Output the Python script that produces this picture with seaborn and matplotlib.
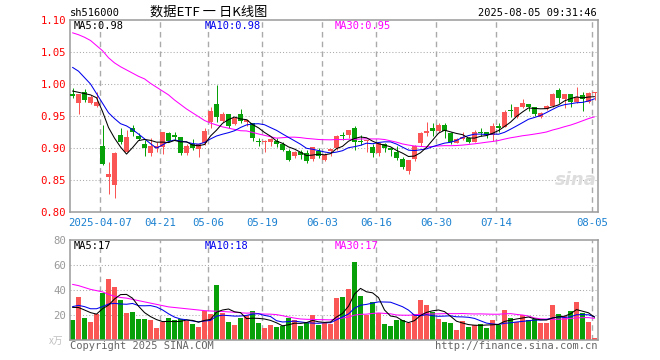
import numpy as np
import pandas as pd
import matplotlib
matplotlib.use("Agg")
import matplotlib.pyplot as plt
import seaborn as sns

# ---------------- data ----------------
opens = [0.985, 0.971, 0.987, 0.970, 0.965, 0.903, 0.854, 0.842, 0.920, 0.894,
         0.932, 0.919, 0.9057, 0.8927, 0.900, 0.902, 0.923, 0.921, 0.917, 0.892,
         0.9057, 0.8984, 0.9073, 0.941, 0.969, 0.9427, 0.953, 0.937, 0.953, 0.940,
         0.9385, 0.9115, 0.909, 0.9099, 0.911, 0.906, 0.8953, 0.8875, 0.894, 0.8917,
         0.883, 0.8953, 0.881, 0.8953, 0.8995, 0.920, 0.920, 0.932, 0.9115, 0.911,
         0.902, 0.8917, 0.9057, 0.8995, 0.894, 0.883, 0.8646, 0.8823, 0.9073, 0.924,
         0.932, 0.9266, 0.936, 0.923, 0.9083, 0.914, 0.915, 0.910, 0.9255, 0.9255,
         0.920, 0.935, 0.9333, 0.9594, 0.949, 0.9635, 0.968, 0.9635, 0.949, 0.9604,
         0.966, 0.9906, 0.9766, 0.9844, 0.9724, 0.983, 0.9724, 0.9854]
highs = [0.994, 0.985, 0.992, 0.983, 0.987, 0.936, 0.878, 0.893, 0.932, 0.928,
         0.936, 0.923, 0.9125, 0.916, 0.910, 0.925, 0.9255, 0.9255, 0.917, 0.907,
         0.914, 0.907, 0.9307, 0.9646, 0.998, 0.957, 0.953, 0.949, 0.961, 0.946,
         0.9385, 0.915, 0.912, 0.916, 0.915, 0.910, 0.898, 0.8953, 0.897, 0.897,
         0.902, 0.8995, 0.8917, 0.8984, 0.920, 0.9245, 0.928, 0.9344, 0.920, 0.913,
         0.9057, 0.9073, 0.9073, 0.900, 0.9036, 0.8865, 0.881, 0.9047, 0.9245, 0.940,
         0.9396, 0.9385, 0.9385, 0.9245, 0.916, 0.9255, 0.9177, 0.928, 0.932, 0.9255,
         0.9385, 0.9385, 0.9594, 0.968, 0.9646, 0.977, 0.968, 0.9635, 0.957, 0.967,
         0.9854, 0.9943, 0.9844, 0.9844, 0.9958, 0.987, 0.987, 0.987]
lows = [0.978, 0.953, 0.972, 0.968, 0.9635, 0.873, 0.828, 0.822, 0.906, 0.893,
        0.919, 0.9125, 0.888, 0.8875, 0.894, 0.891, 0.910, 0.9125, 0.889, 0.889,
        0.897, 0.8865, 0.9047, 0.9307, 0.941, 0.941, 0.931, 0.936, 0.9385, 0.935,
        0.9115, 0.9036, 0.894, 0.9026, 0.902, 0.8953, 0.8797, 0.884, 0.883, 0.876,
        0.880, 0.884, 0.8797, 0.888, 0.897, 0.9125, 0.915, 0.897, 0.9047, 0.894,
        0.8865, 0.8875, 0.893, 0.888, 0.881, 0.8672, 0.8594, 0.8797, 0.903, 0.919,
        0.919, 0.9255, 0.916, 0.906, 0.9073, 0.9125, 0.9083, 0.909, 0.919, 0.915,
        0.911, 0.9255, 0.933, 0.949, 0.947, 0.962, 0.958, 0.950, 0.9474, 0.9594,
        0.9646, 0.970, 0.962, 0.9646, 0.970, 0.958, 0.971, 0.975]
closes = [0.982, 0.9844, 0.975, 0.979, 0.9724, 0.8745, 0.859, 0.892, 0.910, 0.917,
          0.9245, 0.9146, 0.9005, 0.903, 0.903, 0.925, 0.911, 0.917, 0.8917, 0.9036,
          0.8995, 0.9057, 0.927, 0.958, 0.949, 0.953, 0.935, 0.947, 0.9427, 0.9437,
          0.915, 0.909, 0.911, 0.9135, 0.906, 0.897, 0.881, 0.894, 0.889, 0.8797,
          0.901, 0.888, 0.889, 0.898, 0.919, 0.919, 0.928, 0.910, 0.910, 0.913,
          0.8927, 0.9073, 0.8995, 0.897, 0.885, 0.871, 0.881, 0.903, 0.923, 0.9266,
          0.927, 0.936, 0.9266, 0.910, 0.914, 0.9177, 0.910, 0.9255, 0.924, 0.920,
          0.935, 0.932, 0.9568, 0.958, 0.9646, 0.970, 0.9635, 0.953, 0.955, 0.966,
          0.984, 0.9786, 0.9844, 0.9724, 0.980, 0.976, 0.9854, 0.987]
volumes = [16.0, 34.4, 17.9, 14.4, 20.8, 37.6, 48.8, 42.4, 32.0, 21.6,
           22.4, 16.8, 16.8, 16.0, 9.6, 14.4, 17.6, 16.0, 16.8, 15.2,
           12.8, 10.4, 23.2, 20.8, 44.0, 21.6, 14.4, 12.0, 17.6, 20.0,
           23.2, 13.6, 9.6, 12.0, 10.4, 11.2, 17.6, 16.0, 11.2, 13.6,
           20.0, 12.0, 13.6, 12.8, 33.6, 34.4, 40.8, 62.4, 35.2, 20.0,
           30.4, 21.6, 12.8, 11.2, 16.0, 16.0, 13.6, 20.8, 32.0, 28.0,
           22.4, 16.8, 14.4, 13.6, 8.0, 15.2, 10.4, 12.0, 12.8, 9.6,
           16.0, 12.0, 24.0, 17.6, 14.4, 20.0, 16.0, 16.8, 13.6, 13.6,
           28.0, 20.8, 19.2, 23.2, 30.4, 21.6, 14.4, 1.6]

# moving-average values before a full window is available
ma5_head = [0.989, 0.987, 0.985, 0.983]
ma10_head = [1.026, 1.020, 1.010, 1.000, 0.985, 0.970, 0.955, 0.946, 0.938]
ma30_head = [1.080, 1.077, 1.073, 1.068, 1.060, 1.052, 1.041, 1.033, 1.027, 1.022,
             1.017, 1.012, 1.008, 1.001, 0.995, 0.989, 0.983, 0.975, 0.968, 0.961,
             0.955, 0.949, 0.943, 0.939, 0.936, 0.933, 0.931, 0.929, 0.927]
vma5_head = [26.1, 26.0, 24.0, 21.9]
vma10_head = [26.7, 27.7, 26.7, 25.0, 25.0, 26.7, 28.8, 29.3, 28.8]
vma30_head = [44.5, 43.5, 42.0, 40.5, 39.5, 38.5, 36.5, 35.0, 34.0, 33.5,
              32.5, 31.5, 30.5, 29.5, 28.5, 27.5, 26.5, 26.0, 25.5, 25.0,
              24.5, 24.0, 23.5, 23.2, 23.0, 22.8, 22.5, 22.2, 21.8]

tick_idx = [5, 15, 23, 32, 42, 51, 61, 71, 87]
tick_labels = ["2025-04-07", "04-21", "05-06", "05-19", "06-03",
               "06-16", "06-30", "07-14", "08-05"]
price_ticks = [0.80, 0.85, 0.90, 0.95, 1.00, 1.05, 1.10]
vol_ticks = [20, 40, 60, 80]

# ---------------- style ----------------
sns.set_style("white")
plt.rcParams["font.family"] = ["DejaVu Sans Mono", "DejaVu Sans"]
MONO = ["DejaVu Sans Mono", "DejaVu Sans"]
CJK = ["Noto Sans CJK SC", "DejaVu Sans"]
RED = "#fa5656"
GREEN = "#08a008"
GRID = "#aaaaaa"
SPINE = "#9a9a9a"
BLUE_TXT = "#1a80d0"
FS = 7.1
LW = 0.75

W, H = 660, 360
fig = plt.figure(figsize=(W / 100, H / 100), dpi=100)


def fx(px):
    return px / W


def fy(py):
    return 1 - py / H


L, R = 70, 597.5
ax = fig.add_axes([fx(L), fy(212), (R - L) / W, (212 - 20) / H])
axv = fig.add_axes([fx(L), fy(340), (R - L) / W, (340 - 240) / H])

o = np.array(opens)
h = np.array(highs)
lo = np.array(lows)
c = np.array(closes)
v = np.array(volumes)
x = np.arange(len(c))
colors = np.where(c >= o, RED, GREEN)


def moving_avg(vals, n, head):
    s = pd.Series(vals).rolling(n).mean().to_numpy()
    s[: n - 1] = head
    return s


df = pd.DataFrame({
    "x": x,
    "ma5": moving_avg(c, 5, ma5_head),
    "ma10": moving_avg(c, 10, ma10_head),
    "ma30": moving_avg(c, 30, ma30_head),
    "vma5": moving_avg(v, 5, vma5_head),
    "vma10": moving_avg(v, 10, vma10_head),
    "vma30": moving_avg(v, 30, vma30_head),
})

xmin, xmax = -0.42, 87.5
grid_x = [i - 0.35 for i in tick_idx]

for a, hlines in ((ax, [0.85, 0.90, 0.95, 1.00, 1.05]), (axv, [20, 40, 60])):
    for yv in hlines:
        a.axhline(yv, color=GRID, lw=0.75, ls=(0, (1, 2)), zorder=0)
    for gx in grid_x:
        a.axvline(gx, color=GRID, lw=1.0, ls=(0, (4, 3)), zorder=0)
    for sp in a.spines.values():
        sp.set_color(SPINE)
        sp.set_linewidth(1.1)
        sp.set_visible(True)
    a.set_xlim(xmin, xmax)

# candles
ax.vlines(x, lo, h, colors=colors, lw=0.72, zorder=2)
body = np.maximum(np.abs(c - o), 0.0016)
ax.bar(x, body, bottom=np.minimum(o, c), width=0.8, color=colors, linewidth=0, zorder=3)

sns.lineplot(data=df, x="x", y="ma30", ax=ax, color="#ff00ff", lw=LW, zorder=4)
sns.lineplot(data=df, x="x", y="ma10", ax=ax, color="#0000ee", lw=LW, zorder=5)
sns.lineplot(data=df, x="x", y="ma5", ax=ax, color="black", lw=LW, zorder=6)

ax.set_ylim(0.80, 1.10)
ax.set_yticks(price_ticks)
ax.set_yticklabels([f"{t:.2f}" for t in price_ticks], color="red", fontsize=FS + 0.6,
                   family=MONO)
ax.set_xticks(grid_x)
ax.set_xticklabels(tick_labels, color=BLUE_TXT, fontsize=FS + 0.6, family=MONO)
ax.tick_params(axis="y", length=0, pad=3)
ax.tick_params(axis="x", length=0, pad=4.5)
ax.set_xlabel("")
ax.set_ylabel("")

# volume
axv.bar(x, v, width=0.8, color=colors, linewidth=0, zorder=2)
sns.lineplot(data=df, x="x", y="vma30", ax=axv, color="#ff00ff", lw=LW, zorder=4)
sns.lineplot(data=df, x="x", y="vma10", ax=axv, color="#0000ee", lw=LW, zorder=5)
sns.lineplot(data=df, x="x", y="vma5", ax=axv, color="black", lw=LW, zorder=6)
axv.set_ylim(0, 80)
axv.set_yticks(vol_ticks)
axv.set_yticklabels([str(t) for t in vol_ticks], color="#999999", fontsize=FS + 0.6,
                    family=MONO)
axv.set_xticks([])
axv.tick_params(axis="both", length=0, pad=3)
axv.set_xlabel("")
axv.set_ylabel("")

# texts
fig.text(fx(70), fy(13), "sh516000", ha="left", va="center", fontsize=FS + 0.4,
         family=MONO, color="black")
fig.text(fx(209), fy(12.5), "数据ETF 一 日K线图", ha="center", va="center",
         fontsize=9.5, family=CJK, color="black")
fig.text(fx(597), fy(13), "2025-08-05 09:31:46", ha="right", va="center",
         fontsize=FS + 0.4, family=MONO, color="black")

fig.text(fx(74), fy(26), "MA5:0.98", ha="left", va="center", fontsize=FS + 0.4,
         family=MONO, color="black")
fig.text(fx(205), fy(26), "MA10:0.98", ha="left", va="center", fontsize=FS + 0.4,
         family=MONO, color="#0000ee")
fig.text(fx(335), fy(26), "MA30:0.95", ha="left", va="center", fontsize=FS + 0.4,
         family=MONO, color="#ff00ff")

fig.text(fx(74), fy(246), "MA5:17", ha="left", va="center", fontsize=FS + 0.4,
         family=MONO, color="black")
fig.text(fx(205), fy(246), "MA10:18", ha="left", va="center", fontsize=FS + 0.4,
         family=MONO, color="#0000ee")
fig.text(fx(335), fy(246), "MA30:17", ha="left", va="center", fontsize=FS + 0.4,
         family=MONO, color="#ff00ff")

fig.text(fx(63), fy(341), "x万", ha="right", va="center", fontsize=7,
         family=CJK, color="#c0c0c0")
fig.text(fx(70), fy(346), "Copyright 2025 SINA.COM", ha="left", va="center",
         fontsize=FS + 0.4, family=MONO, color="#666666")
fig.text(fx(597), fy(346), "http://finance.sina.com.cn", ha="right", va="center",
         fontsize=FS + 0.4, family=MONO, color="#666666")

fig.text(fx(576), fy(180), "sina", ha="center", va="center", fontsize=13,
         style="italic", weight="bold", family=["DejaVu Sans"], color="#dddddd",
         zorder=1)

fig.savefig("out.png", dpi=100)
